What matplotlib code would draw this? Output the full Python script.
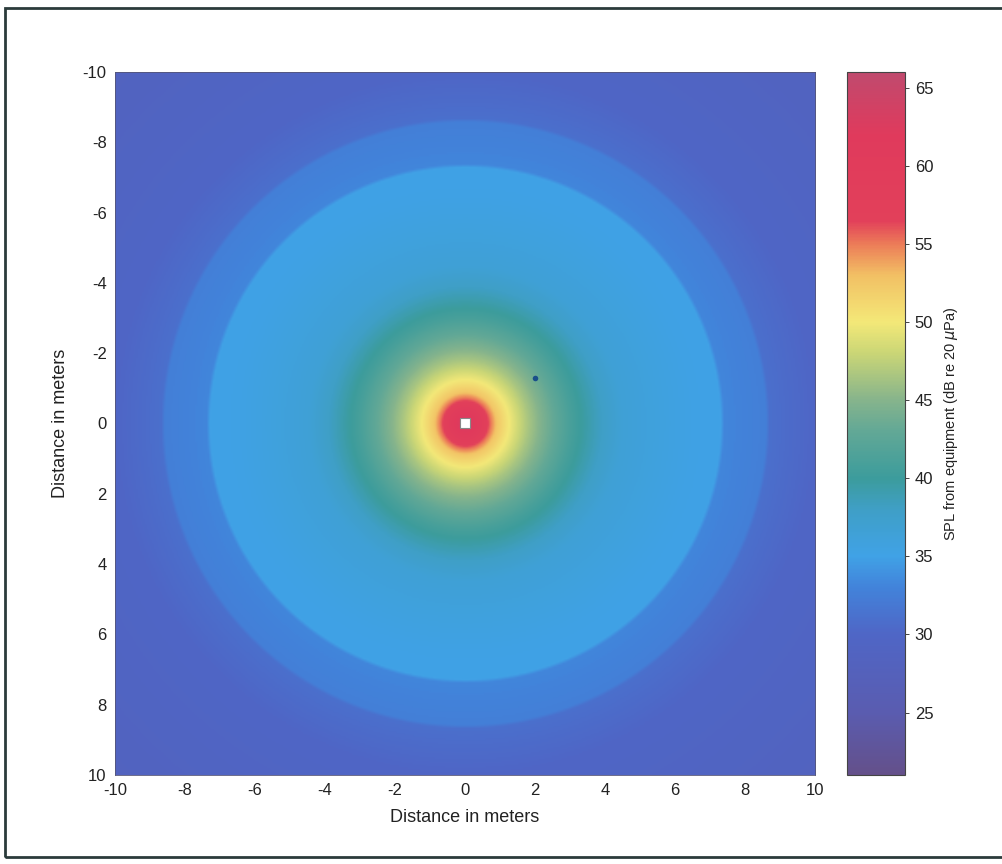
import numpy as np
import matplotlib
matplotlib.use("Agg")
import matplotlib.pyplot as plt
from matplotlib.colors import LinearSegmentedColormap
from matplotlib.patches import Rectangle

plt.rcParams['font.family'] = ['Liberation Sans', 'DejaVu Sans']
plt.rcParams['axes.unicode_minus'] = False

# Radial SPL profile (distance from source in m -> dB)
radius_m = [0.0, 0.25, 0.5, 0.7, 0.9, 1.2, 1.5, 1.8, 2.2, 2.6, 3.0, 3.5, 3.9, 4.5, 5.5, 6.5, 7.3, 7.4, 8.6, 8.7, 10.0, 14.2]
spl_db = [63.5, 62.0, 59.0, 55.5, 52.5, 50.3, 48.3, 46.5, 44.5, 42.7, 41.0, 39.3, 38.0, 36.5, 35.8, 35.2, 35.0, 33.2, 32.6, 31.0, 30.0, 28.5]

# Isolated measurement marks
dot_x = [2.0]
dot_y = [-1.3]
source_x = [0.0]
source_y = [0.0]

# Axis settings
ticks = [-10, -8, -6, -4, -2, 0, 2, 4, 6, 8, 10]
cbar_ticks = [25, 30, 35, 40, 45, 50, 55, 60, 65]
vmin, vmax = 21.0, 66.0

# Colormap anchors (value, colour)
cmap_vals = [21, 25, 30, 33, 35, 38, 40, 43, 45, 48, 50, 53, 55, 56.5, 62, 66]
cmap_cols = ["#64508a", "#5a5cb0", "#4f66c6", "#4283da", "#40a2e6", "#3f9fc6",
             "#3c9c9c", "#62a896", "#86b48c", "#cad676", "#f3e878", "#f2c064",
             "#ec7c58", "#e2405a", "#e03a5c", "#c04a6e"]
pos = [(v - vmin) / (vmax - vmin) for v in cmap_vals]
cmap = LinearSegmentedColormap.from_list("spl", list(zip(pos, cmap_cols)), N=512)

# Build grid from the radial profile
n = 401
xs = np.linspace(-10, 10, n)
X, Y = np.meshgrid(xs, xs)
R = np.hypot(X, Y)
Z = np.interp(R, radius_m, spl_db)

fig = plt.figure(figsize=(10.02, 8.64), dpi=100)
ax = fig.add_axes([115/1002, 1-775/864, 700/1002, 703/864])
im = ax.imshow(Z, cmap=cmap, vmin=vmin, vmax=vmax, extent=[-10, 10, 10, -10],
               origin='upper', interpolation='bilinear', aspect='auto')
ax.plot(dot_x, dot_y, 'o', color='#1a4f8a', ms=4, mec='none')
ax.plot(source_x, source_y, 's', color='white', ms=7, mec='#888888', mew=0.8)
ax.set_xlim(-10, 10)
ax.set_ylim(10, -10)
ax.set_xticks(ticks)
ax.set_yticks(ticks)
ax.tick_params(length=0, labelsize=12, colors='#222222', pad=6)
for s in ax.spines.values():
    s.set_color('#555577')
    s.set_linewidth(0.6)
ax.set_xlabel("Distance in meters", fontsize=13, color='#222222', labelpad=8)
ax.set_ylabel("Distance in meters", fontsize=13, color='#222222', labelpad=10)

cax = fig.add_axes([847/1002, 1-775/864, 58/1002, 703/864])
cb = fig.colorbar(im, cax=cax, ticks=cbar_ticks)
cb.ax.tick_params(labelsize=12, length=3, width=0.6, colors='#222222', pad=4)
cb.outline.set_edgecolor('#444444')
cb.outline.set_linewidth(0.8)
cb.set_label(r"SPL from equipment (dB re 20 $\mu$Pa)", fontsize=10.5, color='#222222', labelpad=6)

# Outer frame of the figure
fig.patches.append(Rectangle((5/1002, 1-857/864), 1.2, (857-8)/864, transform=fig.transFigure,
                             fill=False, edgecolor='#2b3b3b', linewidth=2.0, zorder=10))

fig.savefig("out.png", dpi=100)
